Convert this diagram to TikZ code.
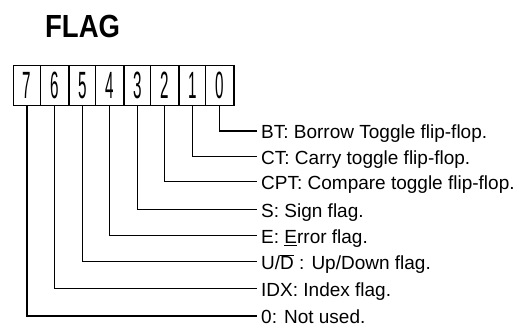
\documentclass[tikz,border=0pt]{standalone}
\usepackage{fontspec}
\setmainfont{Liberation Sans}
\begin{document}
\begin{tikzpicture}[x=1pt,y=-1pt,
  ln/.style={line width=1.3pt},
  cell/.style={draw,line width=1.3pt,minimum height=40pt,inner sep=0pt,anchor=north west},
  digit/.style={font=\fontsize{38}{38}\selectfont,inner sep=0pt,xscale=0.4},
  lbl/.style={anchor=base west,inner sep=0pt,font=\fontsize{19}{19}\selectfont}]
\useasboundingbox (0,0) rectangle (526,328);
\node[font=\fontsize{32}{32}\bfseries\selectfont,anchor=base west,inner sep=0pt,xscale=0.86] (title) at (45,38) {FLAG};
% register cells
\foreach \i/\xa/\xb in {7/12.7/40,6/40/68.3,5/68.3/95,4/95/123.3,3/123.3/150,2/150/178.3,1/178.3/205,0/205/233.3}{
  \pgfmathsetmacro{\w}{\xb-\xa}
  \node[cell,minimum width=\w pt] (c\i) at (\xa,65) {};
  \node[digit] (d\i) at (c\i.center) {\i};
}
% label ends
\foreach \i/\y in {0/131,1/156.7,2/181.7,3/209.5,4/235.5,5/261.5,6/288.5,7/316}{
  \coordinate (e\i) at (257,\y);
  \draw[ln] (c\i.south) |- (e\i);
}
\node[lbl] (l0) at (261,131+8) {BT: Borrow Toggle flip-flop.};
\node[lbl] (l1) at (261,156.7+8) {CT: Carry toggle flip-flop.};
\node[lbl] (l2) at (261,181.7+8) {CPT: Compare toggle flip-flop.};
\node[lbl] (l3) at (261,209.5+8) {S: Sign flag.};
\node[lbl] (l4) at (261,235.5+8) {E: \underline{E}rror flag.};
\node[lbl] (l5) at (261,261.5+8) {U/$\overline{\mbox{D}}$ : Up/Down flag.};
\node[lbl] (l6) at (261,288.5+8) {IDX: Index flag.};
\node[lbl] (l7) at (261,316+7.5) {0: Not used.};
\end{tikzpicture}
\end{document}
